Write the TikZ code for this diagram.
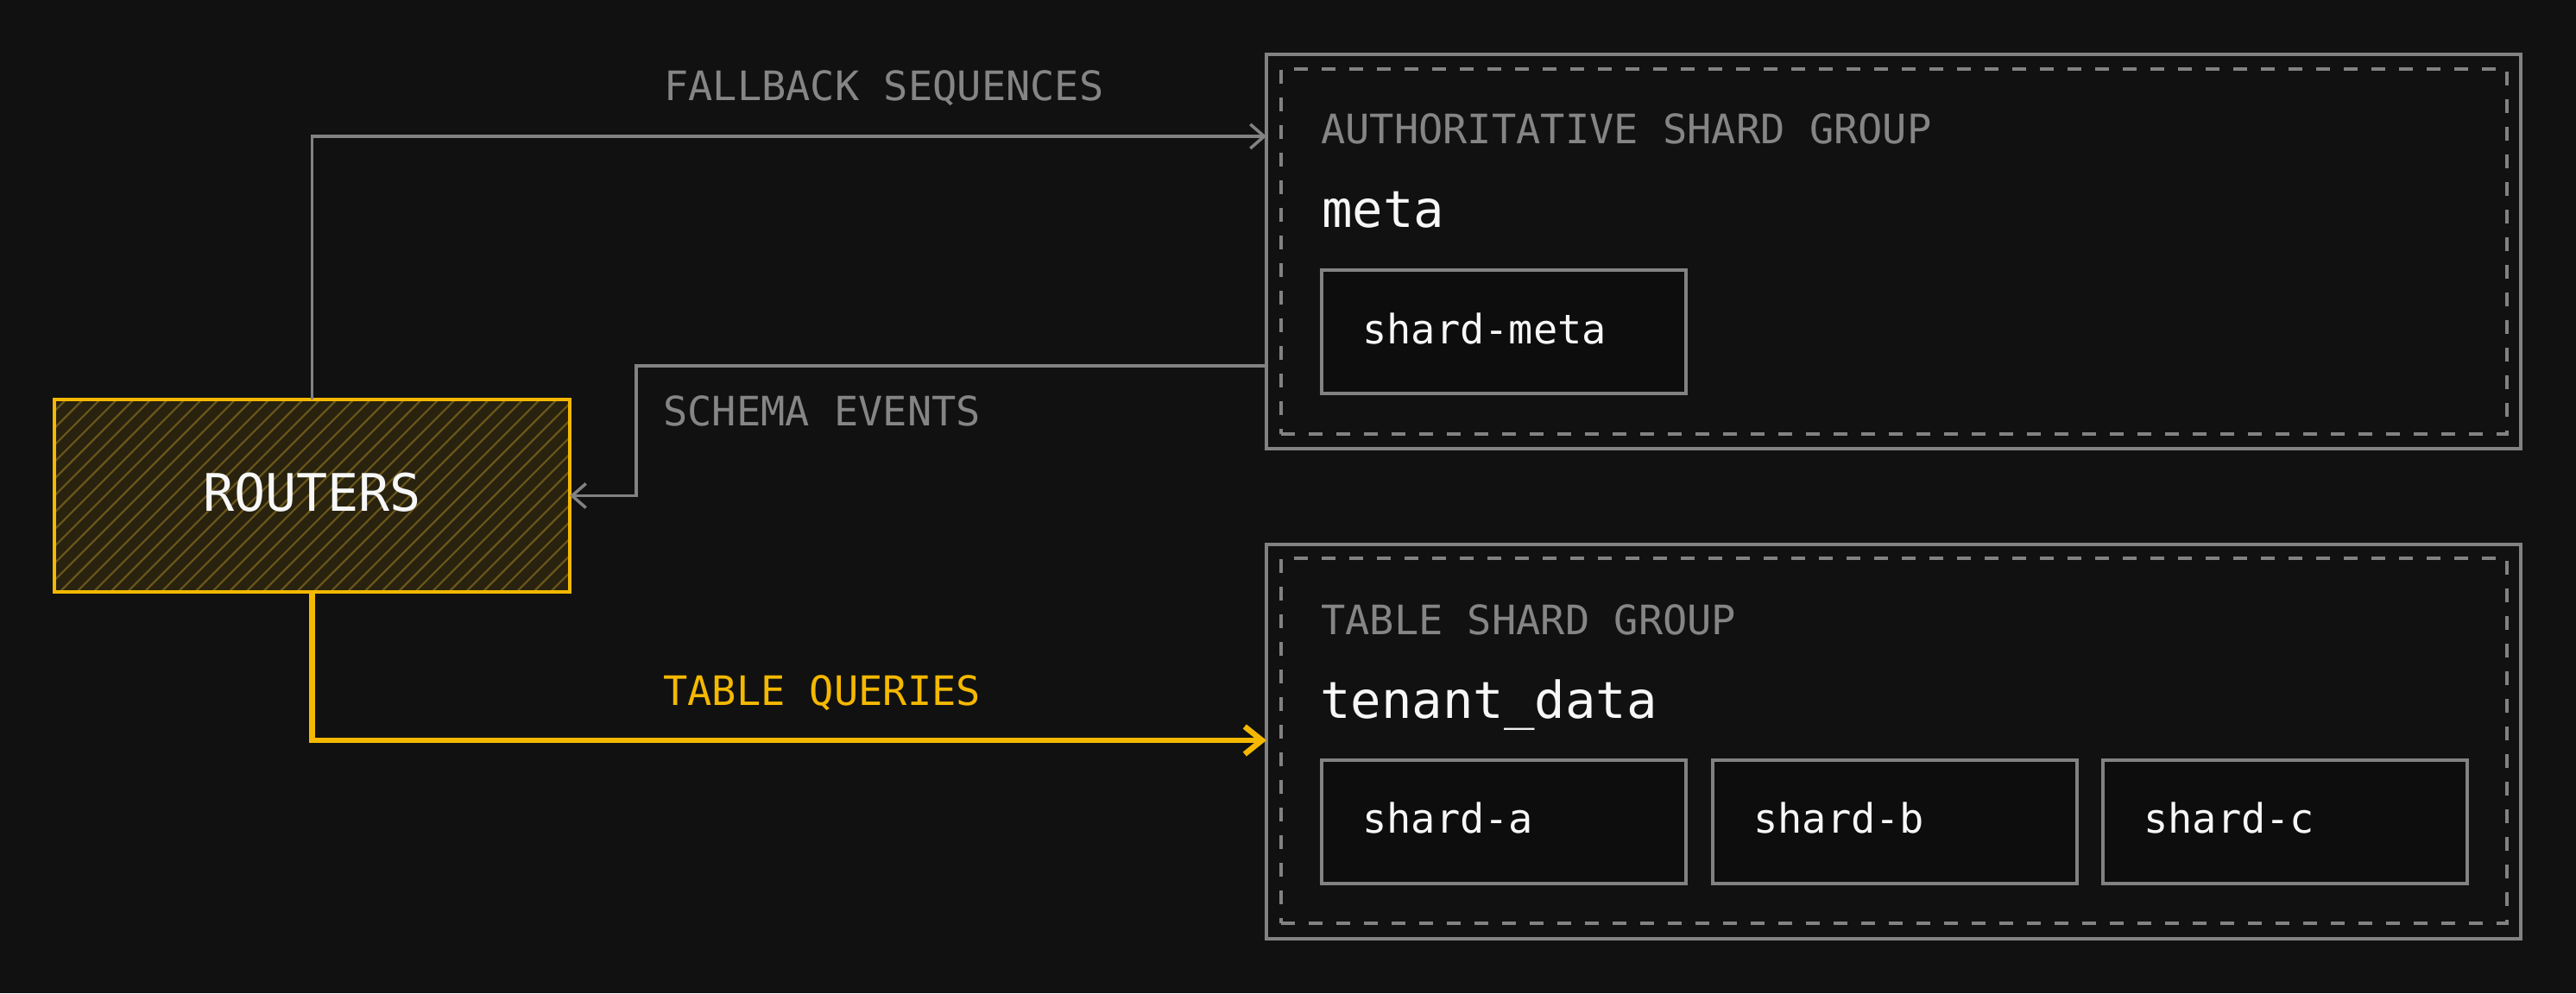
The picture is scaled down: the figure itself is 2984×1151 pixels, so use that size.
\documentclass[tikz,border=0pt]{standalone}
\usepackage{fontspec}
\setmainfont{DejaVu Sans Mono}
\usetikzlibrary{arrows.meta,calc}
\definecolor{bg}{HTML}{111111}
\definecolor{gline}{HTML}{828282}
\definecolor{gtext}{HTML}{858585}
\definecolor{ylw}{HTML}{F4B800}
\definecolor{wtext}{HTML}{F7F7F7}
\definecolor{shardfill}{HTML}{0D0D0D}
\definecolor{routerfill}{HTML}{28220F}
\definecolor{hatchc}{HTML}{6A561A}
\tikzset{
  groupbox/.style={draw=gline, line width=3.5pt, minimum width=1453pt, minimum height=457pt, anchor=north west, inner sep=0pt, outer sep=0pt},
  innerbox/.style={draw=gline, line width=3.5pt, dash pattern=on 16pt off 16pt, minimum width=1420pt, minimum height=423pt, anchor=north west, inner sep=0pt, outer sep=0pt},
  shardbox/.style={draw=gline, fill=shardfill, line width=3.5pt, minimum width=422pt, minimum height=143pt, anchor=north west, inner sep=0pt, outer sep=0pt},
  routerbox/.style={fill=routerfill, minimum width=597pt, minimum height=223pt, anchor=north west, inner sep=0pt, outer sep=0pt},
  lbl/.style={anchor=base west, inner sep=0pt, text=gtext, font=\fontsize{47}{56}\selectfont},
  lbly/.style={lbl, text=ylw},
  grpname/.style={anchor=base west, inner sep=0pt, text=wtext, font=\fontsize{59}{70}\selectfont},
  shardname/.style={anchor=base west, inner sep=0pt, text=wtext, font=\fontsize{47}{56}\selectfont},
  garrow/.style={draw=gline, line width=3.5pt, -{Straight Barb[length=16pt,width=28pt]}},
  yarrow/.style={draw=ylw, line width=6.5pt, -{Straight Barb[length=20pt,width=32pt]}},
}
\begin{document}
\begin{tikzpicture}[x=1pt,y=-1pt]
\fill[bg] (0,0) rectangle (2984,1151);
\useasboundingbox (0,0) rectangle (2984,1151);

% groups
\node[groupbox] (auth) at (1467,63) {};
\node[innerbox] (authin) at (1484,80) {};
\node[groupbox] (table) at (1467,631) {};
\node[innerbox] (tablein) at (1484,647) {};

\node[lbl] (authlbl) at (1530,166) {AUTHORITATIVE SHARD GROUP};
\node[grpname] (metalbl) at (1531,263) {meta};
\node[lbl] (tablelbl) at (1530,735) {TABLE SHARD GROUP};
\node[grpname] (tenantlbl) at (1529,832) {tenant\_data};

% shards
\node[shardbox] (sm) at (1531,313) {};
\node[shardname] (smt) at ($(sm.north west)+(47,85)$) {shard-meta};
\node[shardbox] (sa) at (1531,881) {};
\node[shardname] (sat) at ($(sa.north west)+(47,84)$) {shard-a};
\node[shardbox] (sb) at (1984,881) {};
\node[shardname] (sbt) at ($(sb.north west)+(47,84)$) {shard-b};
\node[shardbox] (sc) at (2436,881) {};
\node[shardname] (sct) at ($(sc.north west)+(47,84)$) {shard-c};

% routers
\node[routerbox] (routers) at (63,463) {};
\begin{scope}
  \clip (routers.south west) rectangle (routers.north east);
  \foreach \a in {-170,-150.4,...,680} {
    \draw[hatchc, line width=2.2pt] (\a,690) -- ++(230,-230);
  }
\end{scope}
\draw[ylw, line width=4pt] (routers.south west) rectangle (routers.north east);
\node[inner sep=0pt, text=wtext, font=\fontsize{60}{72}\selectfont] (routerstxt) at ($(routers.center)+(0,-4)$) {ROUTERS};

% connectors
\draw[garrow] (routers.north) |- ($(auth.north west)+(0,95)$);
\node[lbl] (fblbl) at (769,116) {FALLBACK SEQUENCES};

\draw[garrow] ($(auth.north west)+(0,361)$) -- ++(-730,0) |- (routers.east);
\node[lbl] (schlbl) at (768,493) {SCHEMA EVENTS};

\draw[yarrow] (routers.south) |- ($(table.north west)+(0,227)$);
\node[lbly] (tqlbl) at (768,817) {TABLE QUERIES};
\end{tikzpicture}
\end{document}
